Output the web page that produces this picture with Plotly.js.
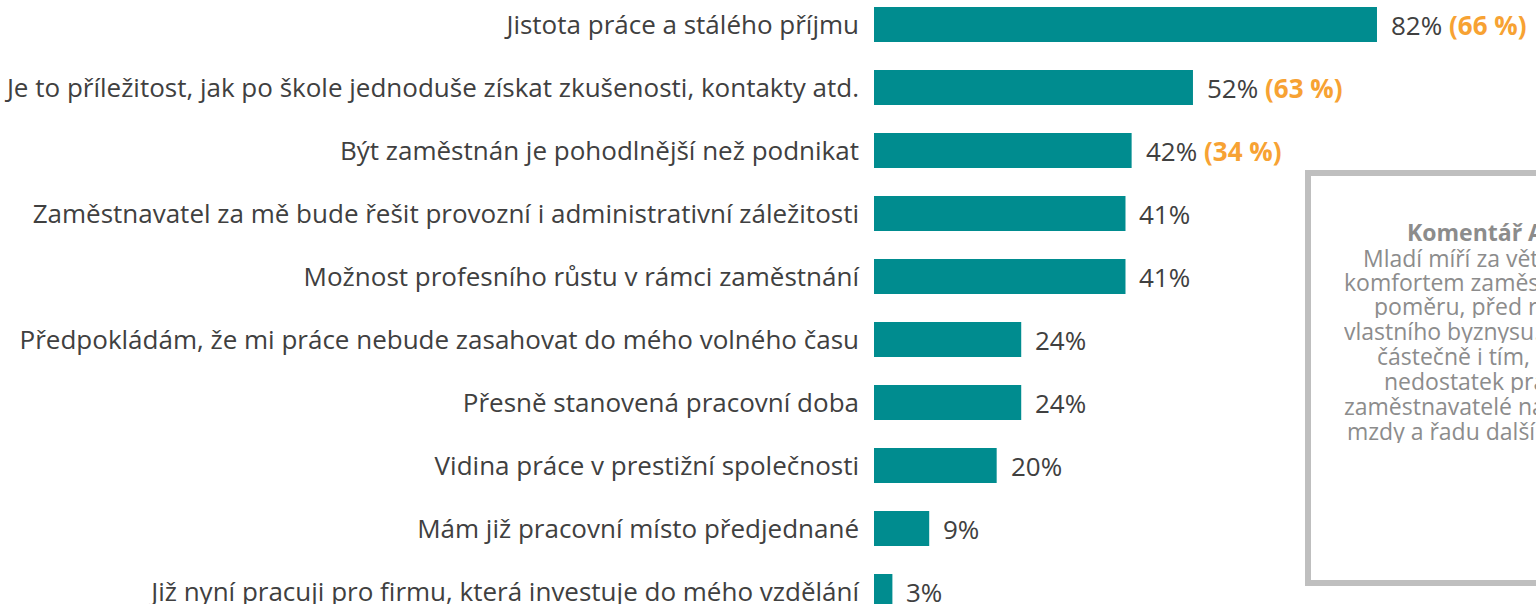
<!DOCTYPE html>
<html>
<head>
<meta charset="utf-8">
<script src="https://cdn.plot.ly/plotly-3.0.1.min.js"></script>
<style>html,body{margin:0;padding:0;background:#fff;overflow:hidden}#chart{width:1536px;height:604px}</style>
</head>
<body>
<div id="chart"></div>
<script>
// ---- data ----
const categories = [
  "Jistota práce a stálého příjmu",
  "Je to příležitost, jak po škole jednoduše získat zkušenosti, kontakty atd.",
  "Být zaměstnán je pohodlnější než podnikat",
  "Zaměstnavatel za mě bude řešit provozní i administrativní záležitosti",
  "Možnost profesního růstu v rámci zaměstnání",
  "Předpokládám, že mi práce nebude zasahovat do mého volného času",
  "Přesně stanovená pracovní doba",
  "Vidina práce v prestižní společnosti",
  "Mám již pracovní místo předjednané",
  "Již nyní pracuji pro firmu, která investuje do mého vzdělání"
];
const values = [82, 52, 42, 41, 41, 24, 24, 20, 9, 3];
const previousValues = ["(66 %)", "(63 %)", "(34 %)", "", "", "", "", "", "", ""];
const commentLines = [
  "<b>Komentář AMSP ČR</b>",
  "Mladí míří za větší jistotou a",
  "komfortem zaměstnaneckého",
  "poměru, před rizikem",
  "vlastního byznysu. Je to dáno",
  "částečně i tím, že na trhu je",
  "nedostatek pracovníků, a tak",
  "zaměstnavatelé nabízejí vyšší",
  "mzdy a řadu dalších benefitů."
];

// ---- layout helpers (pixels -> paper) ----
const W = 1536, H = 604, L = 874;
const px = x => (x - L) / (W - L);
const py = y => 1 - y / H;

const FONT = "Open Sans, sans-serif";
const teal = "#008C8F";
const orange = "#F7A233";

const trace = {
  type: "bar",
  orientation: "h",
  y: categories,
  x: values,
  marker: {color: teal},
  hoverinfo: "skip",
  showlegend: false
};

const annotations = values.map((v, i) => ({
  x: v, y: categories[i], xref: "x", yref: "y",
  xanchor: "left", yanchor: "middle", xshift: 12,
  showarrow: false,
  text: v + "%" + (previousValues[i] ? " <b><span style=\"color:" + orange + "\">" + previousValues[i] + "</span></b>" : ""),
  font: {family: FONT, size: 26, color: "#404040"}
}));

const lineStarts = [1406, 1362, 1343, 1373, 1343, 1376, 1383, 1343, 1346];
const lineCenters = [232, 258, 282, 306, 331, 356, 381, 406, 431];
commentLines.forEach((t, i) => {
  annotations.push({
    x: px(lineStarts[i]), y: py(lineCenters[i]), xref: "paper", yref: "paper",
    xanchor: "left", yanchor: "middle", showarrow: false, text: t,
    height: 24, borderpad: 0,
    font: {family: FONT, size: 23, color: "#8C8C8C"}
  });
});

const layout = {
  width: W, height: H,
  margin: {l: L, r: 0, t: 0, b: 0, pad: 0},
  paper_bgcolor: "#fff", plot_bgcolor: "#fff",
  bargap: 0.444,
  xaxis: {range: [0, (W - L) / 6.134], visible: false, fixedrange: true},
  yaxis: {
    type: "category",
    range: [9.198, -0.389],
    showgrid: false, zeroline: false, showline: false,
    ticks: "", ticklabelstandoff: 14,
    tickfont: {family: FONT, size: 26, color: "#404040"},
    fixedrange: true
  },
  shapes: [{
    type: "rect", xref: "paper", yref: "paper",
    x0: px(1308), x1: px(1600), y0: py(583), y1: py(173),
    line: {color: "#BFBFBF", width: 6}, fillcolor: "rgba(0,0,0,0)"
  }],
  annotations: annotations,
  showlegend: false
};

Plotly.newPlot("chart", [trace], layout, {displayModeBar: false, staticPlot: true});
</script>
</body>
</html>
